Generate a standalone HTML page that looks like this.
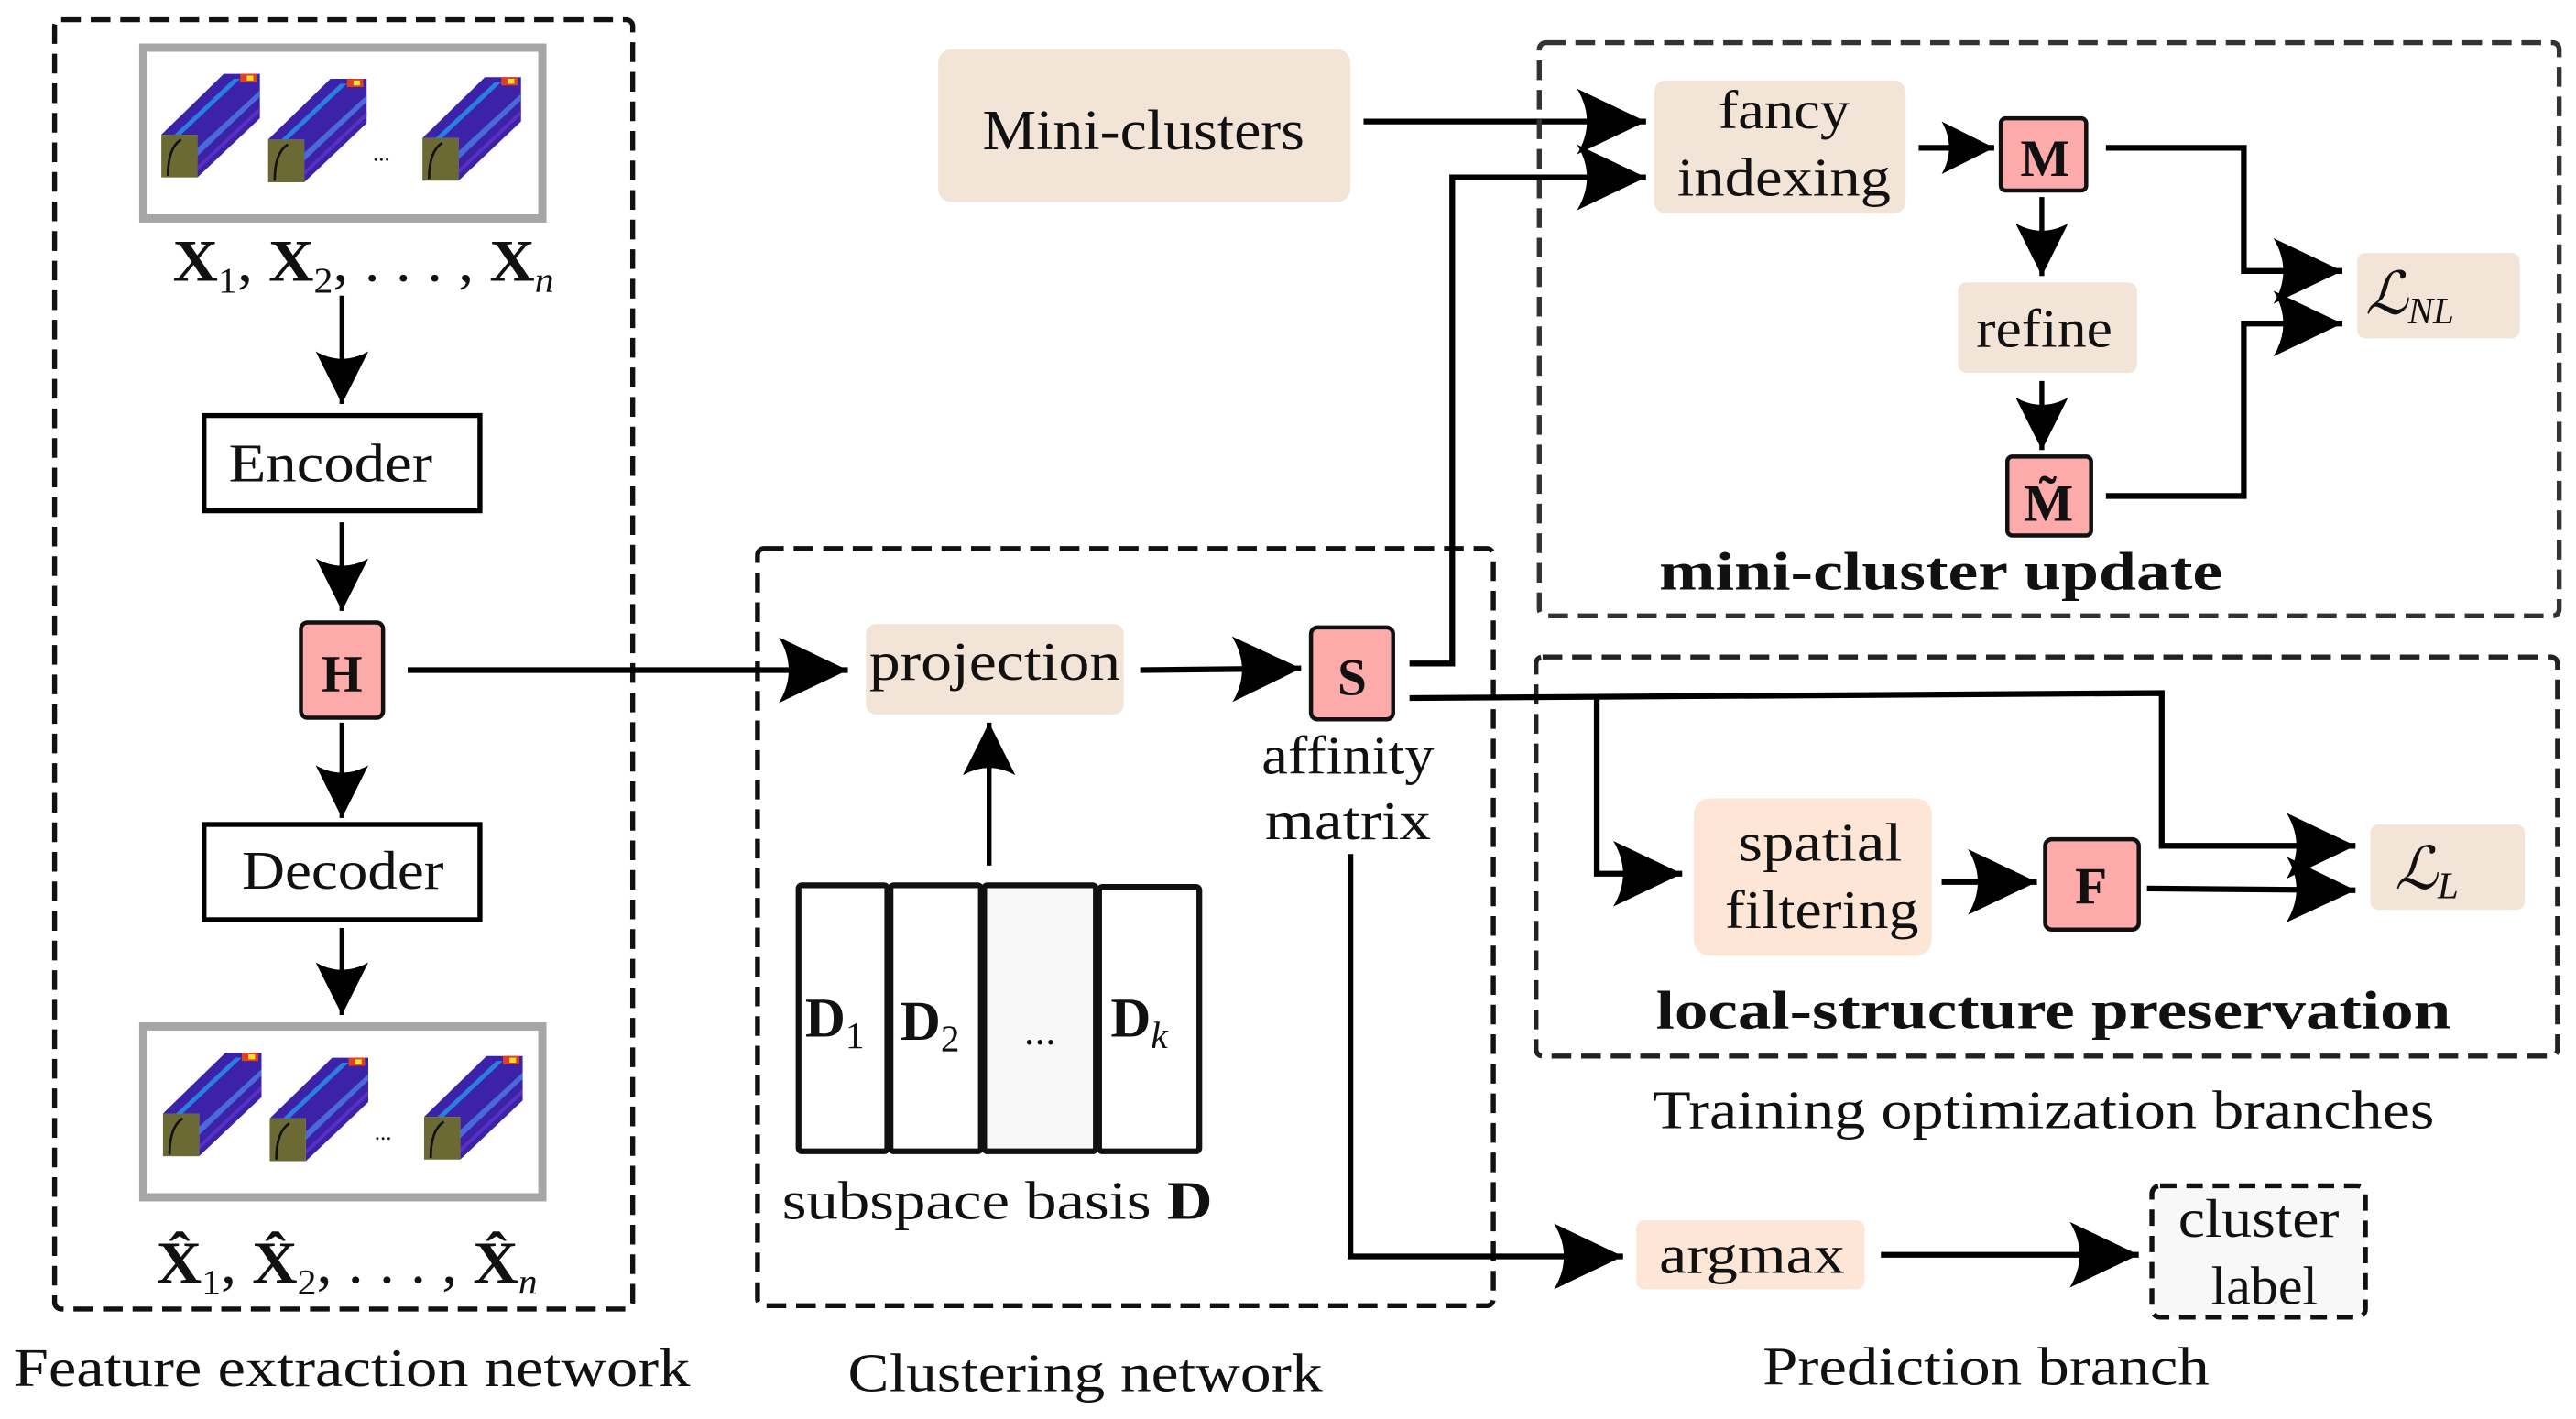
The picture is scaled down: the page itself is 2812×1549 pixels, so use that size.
<!DOCTYPE html>
<html><head><meta charset="utf-8">
<style>
html,body{margin:0;padding:0;background:#fff;}
svg{display:block;}
text{font-family:"Liberation Serif","DejaVu Serif",serif;fill:#111;}
.b{font-weight:bold;}
</style></head>
<body>
<svg width="2812" height="1549" viewBox="0 0 1568 864" xmlns="http://www.w3.org/2000/svg">
<defs>
<marker id="ah" markerUnits="userSpaceOnUse" markerWidth="44" markerHeight="40" refX="42" refY="20" orient="auto">
<path d="M0,0 L42,20 L0,40 Q12,20 0,0 Z" fill="#000"/>
</marker>
<marker id="as" markerUnits="userSpaceOnUse" markerWidth="34" markerHeight="32" refX="32" refY="16" orient="auto">
<path d="M0,0 L32,16 L0,32 Q9,16 0,0 Z" fill="#000"/>
</marker>
<g id="cube">
<polygon points="0,37 38,0 60,0 60,27 22,63 22,37" fill="#3b22a8"/>
<polygon points="8,37 44,3 48,3 12,37" fill="#2a7fe0"/>
<polygon points="22,45 60,10 60,14 22,50" fill="#4a6ad8"/>
<polygon points="22,56 60,20 60,23 22,59" fill="#5a30c0"/>
<rect x="48" y="0" width="10" height="5" fill="#e04020"/>
<rect x="52" y="1" width="4" height="3" fill="#f0e030"/>
<rect x="0" y="37" width="22" height="26" fill="#6b6a34"/>
<path d="M4,62 Q4,45 12,40" stroke="#111" stroke-width="1.5" fill="none"/>
</g>
</defs>

<!-- Feature extraction network -->
<rect x="33" y="12" width="352" height="785" rx="4" fill="none" stroke="#111" stroke-width="3" stroke-dasharray="12,6"/>
<rect x="87" y="29" width="243" height="104" fill="#fff" stroke="#a6a6a6" stroke-width="5"/>
<use href="#cube" x="98" y="45"/>
<use href="#cube" x="163" y="48"/>
<use href="#cube" x="257" y="47"/>
<text x="232" y="98" font-size="14" text-anchor="middle">...</text>
<text x="105" y="171" font-size="36" textLength="232" lengthAdjust="spacingAndGlyphs"><tspan class="b">X</tspan><tspan font-size="22" dy="7">1</tspan><tspan dy="-7">, </tspan><tspan class="b">X</tspan><tspan font-size="22" dy="7">2</tspan><tspan dy="-7">, . . . , </tspan><tspan class="b">X</tspan><tspan font-size="22" dy="7" font-style="italic">n</tspan></text>
<line x1="208" y1="180" x2="208" y2="246" stroke="#000" stroke-width="3" marker-end="url(#as)"/>
<rect x="124" y="253" width="168" height="58" fill="#fff" stroke="#000" stroke-width="3"/>
<text x="139" y="293" font-size="33" textLength="124" lengthAdjust="spacingAndGlyphs">Encoder</text>
<line x1="208" y1="318" x2="208" y2="372" stroke="#000" stroke-width="3" marker-end="url(#as)"/>
<rect x="183" y="379" width="50" height="58" rx="4" fill="#fcaaaa" stroke="#111" stroke-width="2.5"/>
<text x="208" y="421" font-size="32" text-anchor="middle" class="b">H</text>
<line x1="208" y1="440" x2="208" y2="498" stroke="#000" stroke-width="3" marker-end="url(#as)"/>
<rect x="124" y="502" width="168" height="58" fill="#fff" stroke="#000" stroke-width="3"/>
<text x="147" y="541" font-size="33" textLength="123" lengthAdjust="spacingAndGlyphs">Decoder</text>
<line x1="208" y1="565" x2="208" y2="618" stroke="#000" stroke-width="3" marker-end="url(#as)"/>
<rect x="87" y="625" width="243" height="104" fill="#fff" stroke="#a6a6a6" stroke-width="5"/>
<use href="#cube" x="99" y="641"/>
<use href="#cube" x="164" y="644"/>
<use href="#cube" x="258" y="643"/>
<text x="233" y="694" font-size="14" text-anchor="middle">...</text>
<text x="95" y="781" font-size="36" textLength="232" lengthAdjust="spacingAndGlyphs"><tspan class="b">X̂</tspan><tspan font-size="22" dy="7">1</tspan><tspan dy="-7">, </tspan><tspan class="b">X̂</tspan><tspan font-size="22" dy="7">2</tspan><tspan dy="-7">, . . . , </tspan><tspan class="b">X̂</tspan><tspan font-size="22" dy="7" font-style="italic">n</tspan></text>
<text x="8" y="844" font-size="33" textLength="412" lengthAdjust="spacingAndGlyphs">Feature extraction network</text>

<!-- Clustering network -->
<rect x="461" y="334" width="448" height="461" rx="4" fill="none" stroke="#111" stroke-width="3" stroke-dasharray="12,6"/>
<line x1="248" y1="408" x2="516" y2="408" stroke="#000" stroke-width="3.5" marker-end="url(#ah)"/>
<rect x="527" y="380" width="157" height="55" rx="6" fill="#f3e4d8"/>
<text x="529" y="414" font-size="33" textLength="153" lengthAdjust="spacingAndGlyphs">projection</text>
<line x1="694" y1="408" x2="792" y2="407" stroke="#000" stroke-width="3.5" marker-end="url(#ah)"/>
<rect x="798" y="382" width="50" height="56" rx="4" fill="#fcaaaa" stroke="#111" stroke-width="2.5"/>
<text x="823" y="423" font-size="32" text-anchor="middle" class="b">S</text>
<text x="768" y="471" font-size="33" textLength="105" lengthAdjust="spacingAndGlyphs">affinity</text>
<text x="770" y="511" font-size="33" textLength="101" lengthAdjust="spacingAndGlyphs">matrix</text>
<line x1="602" y1="527" x2="602" y2="440" stroke="#000" stroke-width="3" marker-end="url(#as)"/>
<rect x="486" y="539" width="54" height="162" rx="2" fill="#fff" stroke="#111" stroke-width="3.5"/>
<rect x="542" y="539" width="55" height="162" rx="2" fill="#fff" stroke="#111" stroke-width="3.5"/>
<rect x="599" y="539" width="68" height="162" rx="2" fill="#f8f8f8" stroke="#111" stroke-width="3.5"/>
<rect x="669" y="540" width="61" height="161" rx="2" fill="#fff" stroke="#111" stroke-width="3.5"/>
<text x="490" y="631" font-size="34" class="b">D<tspan font-size="23" dy="7" font-weight="normal">1</tspan></text>
<text x="548" y="633" font-size="34" class="b">D<tspan font-size="23" dy="7" font-weight="normal">2</tspan></text>
<text x="633" y="636" font-size="26" text-anchor="middle">...</text>
<text x="676" y="631" font-size="34" class="b">D<tspan font-size="23" dy="7" font-weight="normal" font-style="italic">k</tspan></text>
<text x="476" y="742" font-size="33" textLength="262" lengthAdjust="spacingAndGlyphs">subspace basis <tspan class="b">D</tspan></text>
<text x="516" y="847" font-size="33" textLength="289" lengthAdjust="spacingAndGlyphs">Clustering network</text>

<!-- Mini-clusters -->
<rect x="571" y="30" width="251" height="93" rx="8" fill="#f3e4d8"/>
<text x="598" y="91" font-size="35" textLength="196" lengthAdjust="spacingAndGlyphs">Mini-clusters</text>
<line x1="830" y1="74" x2="1002" y2="74" stroke="#000" stroke-width="3.5" marker-end="url(#ah)"/>

<!-- mini-cluster update -->
<rect x="937" y="26" width="621" height="349" rx="4" fill="none" stroke="#333" stroke-width="3" stroke-dasharray="12,6"/>
<polyline points="858,404 884,404 884,108 1002,108" fill="none" stroke="#000" stroke-width="3.5" marker-end="url(#ah)"/>
<rect x="1007" y="49" width="153" height="81" rx="7" fill="#f3e4d8"/>
<text x="1046" y="78" font-size="33" textLength="80" lengthAdjust="spacingAndGlyphs">fancy</text>
<text x="1021" y="119" font-size="33" textLength="130" lengthAdjust="spacingAndGlyphs">indexing</text>
<line x1="1168" y1="90" x2="1214" y2="90" stroke="#000" stroke-width="3.5" marker-end="url(#as)"/>
<rect x="1218" y="72" width="52" height="44" rx="3" fill="#fcaaaa" stroke="#111" stroke-width="2.5"/>
<text x="1245" y="107" font-size="32" text-anchor="middle" class="b">M</text>
<line x1="1243" y1="120" x2="1243" y2="168" stroke="#000" stroke-width="3" marker-end="url(#as)"/>
<rect x="1192" y="172" width="109" height="55" rx="5" fill="#f3e4d8"/>
<text x="1203" y="211" font-size="33" textLength="83" lengthAdjust="spacingAndGlyphs">refine</text>
<line x1="1243" y1="232" x2="1243" y2="274" stroke="#000" stroke-width="3" marker-end="url(#as)"/>
<rect x="1222" y="278" width="51" height="48" rx="3" fill="#fcaaaa" stroke="#111" stroke-width="2.5"/>
<text x="1247" y="317" font-size="32" text-anchor="middle" class="b">M̃</text>
<polyline points="1282,90 1366,90 1366,165 1426,165" fill="none" stroke="#000" stroke-width="3.5" marker-end="url(#ah)"/>
<polyline points="1282,302 1366,302 1366,197 1426,197" fill="none" stroke="#000" stroke-width="3.5" marker-end="url(#ah)"/>
<rect x="1435" y="154" width="99" height="52" rx="5" fill="#f3e4d8"/>
<text x="1440" y="191" font-size="36" font-style="italic">ℒ<tspan font-size="23" dy="6">NL</tspan></text>
<text x="1010" y="359" font-size="33" class="b" textLength="343" lengthAdjust="spacingAndGlyphs">mini-cluster update</text>

<!-- local-structure preservation -->
<rect x="935" y="400" width="622" height="243" rx="4" fill="none" stroke="#222" stroke-width="3" stroke-dasharray="12,6"/>
<polyline points="858,425 1316,422 1316,515 1434,515" fill="none" stroke="#000" stroke-width="3.5" marker-end="url(#ah)"/>
<polyline points="972,424 972,532 1024,532" fill="none" stroke="#000" stroke-width="3.5" marker-end="url(#ah)"/>
<rect x="1031" y="486" width="145" height="96" rx="10" fill="#fde6d6"/>
<text x="1058" y="524" font-size="33" textLength="100" lengthAdjust="spacingAndGlyphs">spatial</text>
<text x="1050" y="565" font-size="33" textLength="118" lengthAdjust="spacingAndGlyphs">filtering</text>
<line x1="1182" y1="537" x2="1240" y2="537" stroke="#000" stroke-width="3.5" marker-end="url(#ah)"/>
<rect x="1245" y="511" width="57" height="55" rx="4" fill="#fcaaaa" stroke="#111" stroke-width="2.5"/>
<text x="1273" y="550" font-size="32" text-anchor="middle" class="b">F</text>
<line x1="1307" y1="541" x2="1434" y2="542" stroke="#000" stroke-width="3.5" marker-end="url(#ah)"/>
<rect x="1443" y="502" width="94" height="52" rx="5" fill="#f3e4d8"/>
<text x="1458" y="541" font-size="36" font-style="italic">ℒ<tspan font-size="23" dy="6">L</tspan></text>
<text x="1008" y="626" font-size="33" class="b" textLength="484" lengthAdjust="spacingAndGlyphs">local-structure preservation</text>
<text x="1006" y="687" font-size="33" textLength="476" lengthAdjust="spacingAndGlyphs">Training optimization branches</text>

<!-- prediction -->
<polyline points="822,520 822,765 988,765" fill="none" stroke="#000" stroke-width="3.5" marker-end="url(#ah)"/>
<rect x="996" y="743" width="139" height="42" rx="5" fill="#fde6d6"/>
<text x="1010" y="775" font-size="33" textLength="113" lengthAdjust="spacingAndGlyphs">argmax</text>
<line x1="1145" y1="764" x2="1302" y2="764" stroke="#000" stroke-width="3.5" marker-end="url(#ah)"/>
<rect x="1310" y="722" width="130" height="80" rx="5" fill="#f8f8f8" stroke="#111" stroke-width="3" stroke-dasharray="10,6"/>
<text x="1326" y="753" font-size="33" textLength="98" lengthAdjust="spacingAndGlyphs">cluster</text>
<text x="1346" y="794" font-size="33" textLength="65" lengthAdjust="spacingAndGlyphs">label</text>
<text x="1073" y="843" font-size="33" textLength="272" lengthAdjust="spacingAndGlyphs">Prediction branch</text>
</svg>
</body></html>
